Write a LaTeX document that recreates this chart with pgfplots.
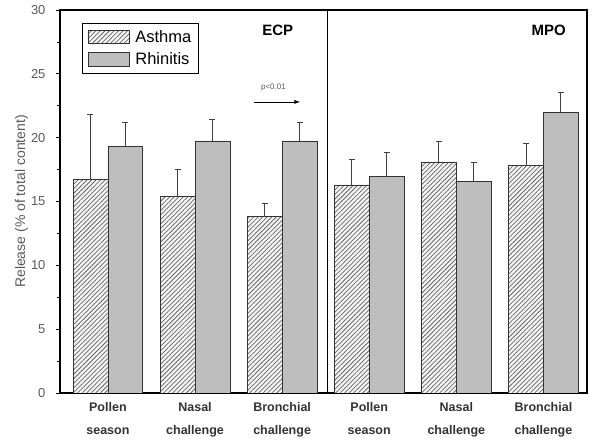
\documentclass[border=0pt]{standalone}
\usepackage{pgfplots}
\pgfplotsset{compat=1.18}
\usepackage{fontspec}
\setmainfont{Liberation Sans}
\usetikzlibrary{patterns.meta,arrows.meta}
\definecolor{rhin}{RGB}{190,190,190}
\definecolor{txtgray}{RGB}{90,90,90}
\begin{document}
\begin{tikzpicture}
\begin{axis}[
  name=ax,
  scale only axis,
  width=527pt, height=383pt,
  xmin=-0.55, xmax=5.5,
  ymin=0, ymax=30,
  ybar=0pt, bar width=0.4,
  axis line style={line width=1.3pt},
  xtick={0,1,2,3,4,5},
  xticklabels={Pollen\\season, Nasal\\challenge, Bronchial\\challenge, Pollen\\season, Nasal\\challenge, Bronchial\\challenge},
  xticklabel style={align=center, font=\fontsize{12.5}{23}\selectfont\bfseries, text=black!80, yshift=-2pt},
  major x tick style={draw=none},
  ytick={0,5,...,30},
  minor y tick num=1,
  tick align=outside,
  ytick pos=left,
  major tick length=4pt, minor tick length=3pt,
  tick style={line width=0.8pt, black},
  yticklabel style={font=\fontsize{13}{15}\selectfont, text=txtgray, xshift=-7pt},
  /pgf/number format/assume math mode=true,
  ylabel={Release (\% of total content)},
  ylabel style={font=\fontsize{14}{16}\selectfont, text=txtgray, yshift=-4pt},
  legend style={at={(0.042,0.966)}, anchor=north west, draw=black, line width=0.8pt, font=\fontsize{16.5}{19}\selectfont, inner xsep=5pt, inner ysep=5pt, row sep=5pt,
    /tikz/every odd column/.append style={column sep=4pt}},
  legend cell align=left,
  legend image code/.code={\draw[#1, line width=0.8pt] (0pt,-6.5pt) rectangle (41pt,7pt);},
  error bars/error bar style={line width=1pt, black!75},
  error bars/error mark options={rotate=90, mark size=3pt, line width=1pt, black!75},
]
\addplot[draw=black!80, line width=0.7pt, fill=gray!8, postaction={pattern={Lines[angle=45,distance=3.2pt,line width=0.75pt]}, pattern color=black!60},
  error bars/.cd, y dir=plus, y explicit]
  coordinates {(0,16.7) +- (0,5.1) (1,15.4) +- (0,2.1) (2,13.8) +- (0,1.05) (3,16.3) +- (0,2.0) (4,18.1) +- (0,1.6) (5,17.8) +- (0,1.75)};
\addlegendentry{Asthma}
\addplot[draw=black!80, line width=0.7pt, fill=rhin,
  error bars/.cd, y dir=plus, y explicit]
  coordinates {(0,19.3) +- (0,1.9) (1,19.75) +- (0,1.65) (2,19.75) +- (0,1.45) (3,16.95) +- (0,1.85) (4,16.55) +- (0,1.5) (5,22.0) +- (0,1.5)};
\addlegendentry{Rhinitis}
\draw[black, line width=0.7pt] (axis cs:2.52,0) -- (axis cs:2.52,30);
\node[font=\fontsize{15}{18}\selectfont\bfseries] at (axis cs:1.95,28.4) {ECP};
\node[font=\fontsize{15}{18}\selectfont\bfseries] at (axis cs:5.06,28.4) {MPO};
\node[font=\fontsize{8}{10}\selectfont, text=txtgray] at (axis cs:1.9,23.9) {p<0.01};
\draw[-{Latex[length=6pt,width=4pt]}, line width=0.8pt] (axis cs:1.68,22.8) -- (axis cs:2.21,22.8);
\end{axis}
\pgfresetboundingbox
\path ([xshift=-60pt,yshift=-55pt]ax.south west) rectangle ([xshift=13pt,yshift=10pt]ax.north east);
\end{tikzpicture}
\end{document}
